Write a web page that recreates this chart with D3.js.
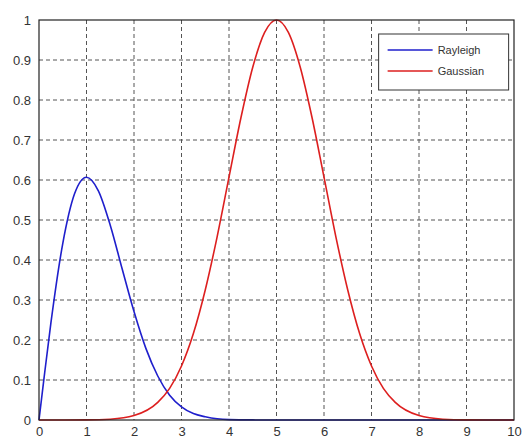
<!DOCTYPE html>
<html>
<head>
<meta charset="utf-8">
<script src="https://cdn.jsdelivr.net/npm/d3@7"></script>
<style>
  body { margin: 0; background: #fff; }
  .tick text { font-family: "Liberation Sans", Arial, sans-serif; font-size: 13px; fill: #333; }
  .legend text { font-family: "Liberation Sans", Arial, sans-serif; font-size: 11px; fill: #333; }
</style>
</head>
<body>
<div class="chart"></div>
<script>
// values
const rayleighX = [0, 0.1, 0.25, 0.5, 0.75, 1, 1.25, 1.5, 1.75, 2, 2.25, 2.5, 2.75, 3, 3.25, 3.5, 3.75, 4, 4.5, 5, 6, 7, 8, 9, 10];
const rayleighY = [0, 0.099, 0.242, 0.441, 0.566, 0.607, 0.573, 0.487, 0.378, 0.271, 0.179, 0.110, 0.062, 0.033, 0.016, 0.008, 0.003, 0.001, 0.0002, 0, 0, 0, 0, 0, 0];

const gaussX = [0, 1, 1.5, 2, 2.5, 2.75, 3, 3.25, 3.5, 3.75, 4, 4.25, 4.5, 4.75, 5, 5.25, 5.5, 5.75, 6, 6.25, 6.5, 6.75, 7, 7.25, 7.5, 8, 8.5, 9, 10];
const gaussY = [0, 0.0003, 0.002, 0.011, 0.044, 0.079, 0.135, 0.216, 0.325, 0.458, 0.607, 0.755, 0.882, 0.969, 1, 0.969, 0.882, 0.755, 0.607, 0.458, 0.325, 0.216, 0.135, 0.079, 0.044, 0.011, 0.002, 0.0003, 0];

const xTicks = [0, 1, 2, 3, 4, 5, 6, 7, 8, 9, 10];
const yTicks = [0, 0.1, 0.2, 0.3, 0.4, 0.5, 0.6, 0.7, 0.8, 0.9, 1];

const seriesNames = ["Rayleigh", "Gaussian"];
const seriesColors = ["#1f1fcc", "#dd1f1f"];

function setupChart() {
    const width = 525;
    const height = 439;
    const margin = {'top': 20, 'right': 11, 'bottom': 19, 'left': 39};
    const graphWidth = width - margin.left - margin.right;
    const graphHeight = height - margin.top - margin.bottom;

    const x = d3.scaleLinear().domain([0, 10]).range([0, graphWidth]);
    const y = d3.scaleLinear().domain([0, 1]).range([graphHeight, 0]);

    const svg = d3.select('.chart')
      .append('svg')
      .attr('width', width)
      .attr('height', height);

    const graph = svg.append('g')
        .attr('transform', `translate(${margin.left}, ${margin.top})`);

    return { graph, x, y, graphWidth, graphHeight };
}

function drawChart(cfg) {
    const { graph, x, y, graphWidth, graphHeight } = cfg;

    // dashed grid
    graph.append('g').selectAll('line')
        .data(xTicks.slice(1, -1))
        .enter().append('line')
          .attr('x1', d => x(d)).attr('x2', d => x(d))
          .attr('y1', 0).attr('y2', graphHeight)
          .attr('stroke', '#555').attr('stroke-width', 1)
          .attr('stroke-dasharray', '4,3');
    graph.append('g').selectAll('line')
        .data(yTicks.slice(1, -1))
        .enter().append('line')
          .attr('x1', 0).attr('x2', graphWidth)
          .attr('y1', d => y(d)).attr('y2', d => y(d))
          .attr('stroke', '#555').attr('stroke-width', 1)
          .attr('stroke-dasharray', '4,3');

    // axes
    const xAxis = graph.append('g')
        .attr('transform', `translate(0, ${graphHeight})`)
        .call(d3.axisBottom(x).tickValues(xTicks).tickSize(0).tickPadding(7).tickFormat(d3.format('d')));
    const yAxis = graph.append('g')
        .call(d3.axisLeft(y).tickValues(yTicks).tickSize(0).tickPadding(8).tickFormat(d => d === 0 || d === 1 ? d : d3.format('.1f')(d)));
    [xAxis, yAxis].forEach(a => a.select('.domain').remove());

    // curves
    const line = d3.line()
        .x(d => x(d[0]))
        .y(d => y(d[1]))
        .curve(d3.curveMonotoneX);
    const series = [d3.zip(rayleighX, rayleighY), d3.zip(gaussX, gaussY)];
    graph.selectAll('path.series')
        .data(series)
        .enter().append('path')
          .attr('class', 'series')
          .attr('d', line)
          .attr('fill', 'none')
          .attr('stroke', (d, i) => seriesColors[i])
          .attr('stroke-width', 1.6);

    // frame
    graph.append('rect')
        .attr('width', graphWidth).attr('height', graphHeight)
        .attr('fill', 'none').attr('stroke', '#222').attr('stroke-width', 1.2);

    // legend
    const legend = graph.append('g')
        .attr('class', 'legend')
        .attr('transform', `translate(${x(7.15)}, ${y(0.965)})`);
    legend.append('rect')
        .attr('width', 130).attr('height', 56)
        .attr('fill', '#fff').attr('stroke', '#333').attr('stroke-width', 1);
    seriesNames.forEach((name, i) => {
        const row = legend.append('g').attr('transform', `translate(0, ${16 + i * 21})`);
        row.append('line')
            .attr('x1', 9).attr('x2', 54)
            .attr('stroke', seriesColors[i]).attr('stroke-width', 1.6);
        row.append('text')
            .attr('x', 59).attr('y', 4)
            .text(name);
    });
}

const chartConfig = setupChart();
drawChart(chartConfig);
</script>
</body>
</html>
